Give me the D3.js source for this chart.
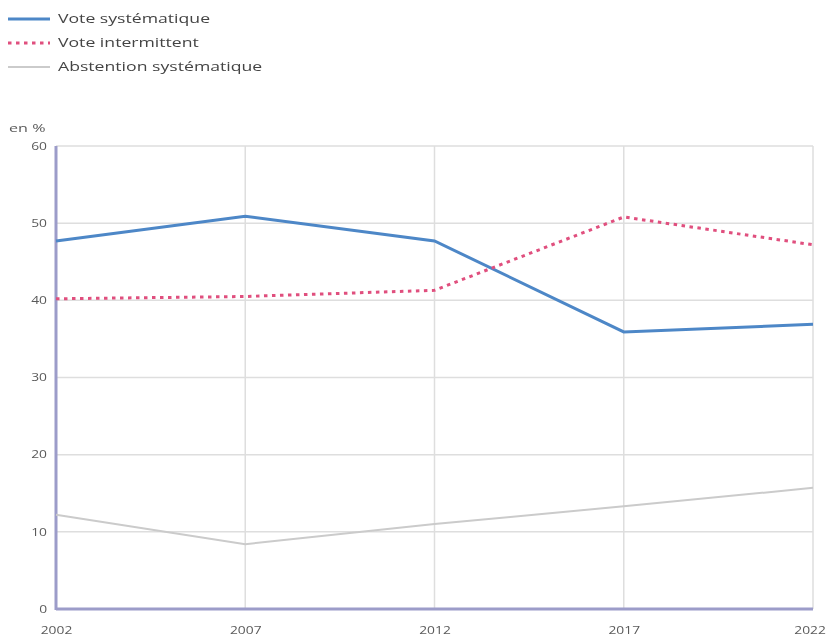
<!DOCTYPE html>
<html>
<head>
<meta charset="utf-8">
<script src="https://cdn.jsdelivr.net/npm/d3@7"></script>
<style>
  html, body { margin: 0; padding: 0; background: #fff; }
  svg { display: block; filter: blur(0.75px); }
  text { font-family: "Open Sans", "Noto Sans", sans-serif; }
</style>
</head>
<body>
<svg id="chart" width="828" height="639"></svg>
<script>
// Election years and participation profiles (share of registered voters, %)
const years = [2002, 2007, 2012, 2017, 2022];
const voteSystematique = [47.7, 50.9, 47.7, 35.9, 36.9];
const voteIntermittent = [40.2, 40.5, 41.3, 50.8, 47.2];
const abstentionSystematique = [12.2, 8.4, 11.0, 13.3, 15.7];
const yTicks = [0, 10, 20, 30, 40, 50, 60];

const seriesNames = ["Vote systématique", "Vote intermittent", "Abstention systématique"];
const seriesValues = [voteSystematique, voteIntermittent, abstentionSystematique];
const seriesColors = ["#4d87c7", "#e04f7e", "#cbcbcb"];
const seriesWidths = [3, 3, 2];
const seriesDash = [null, "3.5 4.5", null];

// Labels are set in a wide face: horizontal stretch applied around each anchor
const stretch = 1.47;
const tickStretch = 1.38;
const wide = (sel, ax) => sel.attr("transform", `translate(${ax},0) scale(${stretch},1) translate(${-ax},0)`);

const svg = d3.select("#chart");

const plot = { left: 56, right: 813, top: 146, bottom: 609 };

const x = d3.scaleLinear().domain([2002, 2022]).range([plot.left, plot.right]);
const y = d3.scaleLinear().domain([0, 60]).range([plot.bottom, plot.top]);

// Horizontal grid
svg.append("g")
  .selectAll("line")
  .data(yTicks.filter(d => d > 0))
  .join("line")
  .attr("x1", plot.left).attr("x2", plot.right)
  .attr("y1", d => y(d)).attr("y2", d => y(d))
  .attr("stroke", "#dedede").attr("stroke-width", 1.5);

// Vertical grid
svg.append("g")
  .selectAll("line")
  .data(years.slice(1))
  .join("line")
  .attr("x1", d => x(d)).attr("x2", d => x(d))
  .attr("y1", plot.top).attr("y2", plot.bottom)
  .attr("stroke", "#dedede").attr("stroke-width", 1.5);

// Y axis labels
const yAxis = d3.axisLeft(y).tickValues(yTicks).tickSize(0).tickPadding(9);
const gy = svg.append("g").attr("transform", `translate(${plot.left},0)`).call(yAxis);
gy.select(".domain").remove();
gy.selectAll("text").attr("fill", "#5a5a5a").style("font-size", "10px")
  .attr("x", -9 / tickStretch).attr("transform", `scale(${tickStretch},1)`);

// X axis labels (the last one is kept inside the frame)
const xAxis = d3.axisBottom(x).tickValues(years).tickFormat(d3.format("d")).tickSize(0).tickPadding(18);
const gx = svg.append("g").attr("transform", `translate(0,${plot.bottom})`).call(xAxis);
gx.select(".domain").remove();
gx.selectAll("text").attr("fill", "#5a5a5a").style("font-size", "10px")
  .attr("x", (d, i) => i === years.length - 1 ? -2.5 : 0)
  .attr("transform", `scale(${tickStretch},1)`);

// Axis lines
svg.append("line")
  .attr("x1", plot.left).attr("x2", plot.left).attr("y1", plot.top).attr("y2", plot.bottom + 1)
  .attr("stroke", "#9c9cc9").attr("stroke-width", 3);
svg.append("line")
  .attr("x1", plot.left).attr("x2", plot.right).attr("y1", plot.bottom).attr("y2", plot.bottom)
  .attr("stroke", "#9c9cc9").attr("stroke-width", 3);

// Series lines (gray drawn first, underneath)
const line = d3.line().x((d, i) => x(years[i])).y(d => y(d));
[2, 0, 1].forEach(k => {
  svg.append("path")
    .datum(seriesValues[k])
    .attr("d", line)
    .attr("fill", "none")
    .attr("stroke", seriesColors[k])
    .attr("stroke-width", seriesWidths[k])
    .attr("stroke-dasharray", seriesDash[k]);
});

// Unit label
svg.append("text").attr("x", 9).attr("y", 132)
  .attr("fill", "#5a5a5a").style("font-size", "11px").text("en %")
  .call(wide, 9);

// Legend
const legend = svg.append("g");
seriesNames.forEach((name, i) => {
  const ly = 19 + i * 24;
  legend.append("line")
    .attr("x1", 8).attr("x2", 50).attr("y1", ly).attr("y2", ly)
    .attr("stroke", seriesColors[i])
    .attr("stroke-width", seriesWidths[i])
    .attr("stroke-dasharray", seriesDash[i]);
  legend.append("text")
    .attr("x", 58).attr("y", ly + 4)
    .attr("fill", "#444").style("font-size", "12px").text(name)
    .call(wide, 58);
});
</script>
</body>
</html>
